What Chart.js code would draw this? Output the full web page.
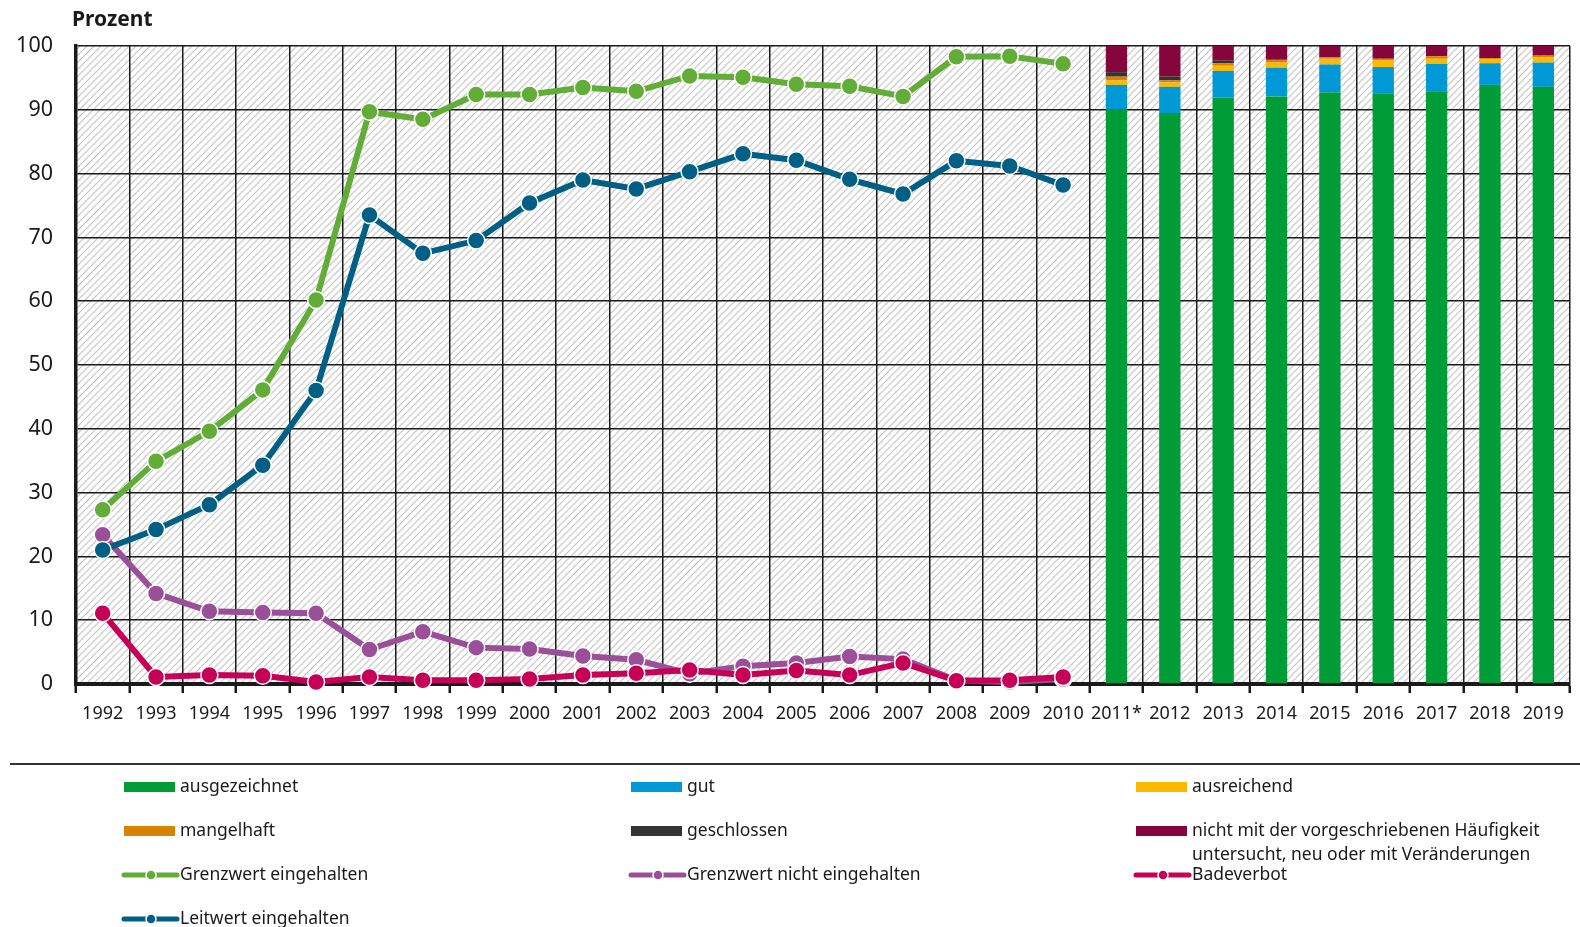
<!DOCTYPE html>
<html lang="de">
<head>
<meta charset="utf-8">
<title>Badegewässerqualität 1992-2019</title>
<script src="https://cdn.jsdelivr.net/npm/chart.js@4.4.1/dist/chart.umd.min.js"></script>
<style>
  html, body { margin: 0; padding: 0; background: #fff; }
  #wrap { width: 1580px; height: 927px; }
</style>
</head>
<body>
<div id="wrap"><canvas id="chart" width="1580" height="927"></canvas></div>
<script>
// Categories (x axis)
const years = ['1992', '1993', '1994', '1995', '1996', '1997', '1998', '1999', '2000', '2001',
    '2002', '2003', '2004', '2005', '2006', '2007', '2008', '2009', '2010',
    '2011*', '2012', '2013', '2014', '2015', '2016', '2017', '2018', '2019'];
const yTicks = [0, 10, 20, 30, 40, 50, 60, 70, 80, 90, 100];

// Line series 1992-2010 (Prozent)
const grenzwertEingehalten = [27.3, 34.9, 39.6, 46.1, 60.2, 89.7, 88.5, 92.4, 92.4, 93.5,
    92.9, 95.3, 95.1, 94.0, 93.7, 92.1, 98.3, 98.4, 97.2];
const leitwertEingehalten = [21.0, 24.2, 28.1, 34.3, 46.0, 73.5, 67.5, 69.5, 75.4, 79.0,
    77.6, 80.3, 83.1, 82.1, 79.1, 76.8, 82.0, 81.2, 78.2];
const grenzwertNichtEingehalten = [23.4, 14.2, 11.4, 11.2, 11.1, 5.4, 8.2, 5.7, 5.5, 4.4,
    3.8, 1.6, 2.8, 3.3, 4.3, 3.9, 0.6, 0.3, 0.8];
const badeverbot = [11.1, 1.1, 1.4, 1.3, 0.3, 1.1, 0.6, 0.6, 0.8, 1.4,
    1.7, 2.2, 1.4, 2.1, 1.4, 3.3, 0.5, 0.6, 1.1];

// Bar series 2011-2019 (Prozent)
const ausgezeichnet = [90.0, 89.5, 91.9, 92.1, 92.7, 92.5, 92.9, 93.9, 93.6];
const gut = [3.9, 4.1, 4.2, 4.5, 4.4, 4.2, 4.3, 3.4, 3.8];
const ausreichend = [0.7, 0.7, 0.8, 0.8, 0.9, 1.1, 0.8, 0.6, 0.8];
const mangelhaft = [0.6, 0.3, 0.4, 0.4, 0.2, 0.2, 0.4, 0.2, 0.3];
const geschlossen = [0.7, 0.6, 0.4, 0.1, 0.0, 0.0, 0.0, 0.0, 0.0];
const nichtUntersucht = [4.1, 4.8, 2.3, 2.1, 1.8, 2.0, 1.6, 1.9, 1.5];

const FONT = '"Noto Sans", "Open Sans", sans-serif';
const TEXT = '#1a1a1a';

// lines fill the first years, bars the last ones
const nLine = grenzwertEingehalten.length;
const nBar = ausgezeichnet.length;
const lineData = arr => arr.concat(new Array(nBar).fill(null));
const barData = arr => new Array(nLine).fill(null).concat(arr);

function lineSet(label, data, color, order) {
    return {
        type: 'line',
        label: label,
        data: lineData(data),
        borderColor: color,
        backgroundColor: color,
        borderWidth: 6,
        pointRadius: 8.5,
        pointBackgroundColor: color,
        pointBorderColor: '#fff',
        pointBorderWidth: 1.5,
        tension: 0,
        stack: 'line' + order,
        order: order,
        clip: false
    };
}

function barSet(label, data, color, order) {
    return {
        type: 'bar',
        label: label,
        data: barData(data),
        backgroundColor: color,
        borderWidth: 0,
        barPercentage: 1,
        categoryPercentage: 0.4,
        stack: 'bars',
        order: order
    };
}

const NICHT_LABEL = 'nicht mit der vorgeschriebenen Häufigkeit untersucht, neu oder mit Veränderungen';

const datasets = [
    lineSet('Grenzwert eingehalten', grenzwertEingehalten, '#61ad37', 1),
    lineSet('Leitwert eingehalten', leitwertEingehalten, '#005f85', 2),
    lineSet('Badeverbot', badeverbot, '#c60056', 3),
    lineSet('Grenzwert nicht eingehalten', grenzwertNichtEingehalten, '#9a4f98', 4),
    barSet('ausgezeichnet', ausgezeichnet, '#009c38', 10),
    barSet('gut', gut, '#0099d5', 11),
    barSet('ausreichend', ausreichend, '#fbb900', 12),
    barSet('mangelhaft', mangelhaft, '#d78200', 13),
    barSet('geschlossen', geschlossen, '#333333', 14),
    barSet(NICHT_LABEL, nichtUntersucht, '#84063c', 15)
];

const legendOrder = ['ausgezeichnet', 'gut', 'ausreichend', 'mangelhaft', 'geschlossen', NICHT_LABEL,
    'Grenzwert eingehalten', 'Grenzwert nicht eingehalten', 'Badeverbot', 'Leitwert eingehalten'];

// Hatched plot background
function makeHatch(ctx) {
    const s = 7;
    const c = document.createElement('canvas');
    c.width = s;
    c.height = s;
    const g = c.getContext('2d');
    g.strokeStyle = '#c6c6c6';
    g.lineWidth = 1.2;
    g.beginPath();
    g.moveTo(-1, s + 1); g.lineTo(s + 1, -1);
    g.moveTo(-1, 1); g.lineTo(1, -1);
    g.moveTo(s - 1, s + 1); g.lineTo(s + 1, s - 1);
    g.stroke();
    return ctx.createPattern(c, 'repeat');
}

const hatchPlugin = {
    id: 'hatch',
    beforeDraw(chart) {
        const { ctx, chartArea: a } = chart;
        ctx.save();
        ctx.fillStyle = '#fff';
        ctx.fillRect(0, 0, chart.width, chart.height);
        ctx.fillStyle = makeHatch(ctx);
        ctx.fillRect(a.left, a.top, a.right - a.left, a.bottom - a.top);
        ctx.restore();
    }
};

// Title and legend block below the chart
const legendPlugin = {
    id: 'legendBlock',
    afterDraw(chart) {
        const ctx = chart.ctx;
        ctx.save();

        ctx.fillStyle = TEXT;
        ctx.font = 'bold 21px ' + FONT;
        ctx.textAlign = 'left';
        ctx.textBaseline = 'alphabetic';
        ctx.fillText('Prozent', 72, 26);

        ctx.strokeStyle = '#333';
        ctx.lineWidth = 2;
        ctx.beginPath();
        ctx.moveTo(10, 764);
        ctx.lineTo(1580, 764);
        ctx.stroke();

        const cols = [124, 631, 1136];
        const rows = [787, 831, 875, 919];
        ctx.font = '17.5px ' + FONT;
        ctx.textBaseline = 'middle';

        legendOrder.forEach((label, i) => {
            const ds = chart.data.datasets.find(d => d.label === label);
            const x = cols[i % 3];
            const y = rows[Math.floor(i / 3)];
            if (ds.type === 'bar') {
                ctx.fillStyle = ds.backgroundColor;
                ctx.fillRect(x, y - 5, 51, 10);
            } else {
                ctx.strokeStyle = ds.borderColor;
                ctx.lineWidth = 5;
                ctx.lineCap = 'round';
                ctx.beginPath();
                ctx.moveTo(x, y);
                ctx.lineTo(x + 53, y);
                ctx.stroke();
                ctx.beginPath();
                ctx.arc(x + 27, y, 5, 0, Math.PI * 2);
                ctx.fillStyle = ds.borderColor;
                ctx.fill();
                ctx.strokeStyle = '#fff';
                ctx.lineWidth = 1.5;
                ctx.stroke();
            }
            // simple word wrap
            ctx.fillStyle = TEXT;
            const words = label.split(' ');
            let line = '';
            let ly = y;
            words.forEach(w => {
                const test = line ? line + ' ' + w : w;
                if (ctx.measureText(test).width > 350 && line) {
                    ctx.fillText(line, x + 56, ly);
                    line = w;
                    ly += 24;
                } else {
                    line = test;
                }
            });
            ctx.fillText(line, x + 56, ly);
        });
        ctx.restore();
    }
};

new Chart(document.getElementById('chart'), {
    data: {
        labels: years,
        datasets: datasets
    },
    options: {
        responsive: false,
        animation: false,
        events: [],
        layout: {
            padding: { top: 46, right: 4, bottom: 198, left: 0 }
        },
        plugins: {
            legend: { display: false },
            tooltip: { enabled: false }
        },
        scales: {
            x: {
                stacked: true,
                offset: true,
                afterFit: s => { s.height = 45; },
                grid: {
                    offset: true,
                    color: '#1a1a1a',
                    lineWidth: 1.5,
                    drawTicks: true,
                    tickLength: 9,
                    tickColor: '#1a1a1a',
                    tickWidth: 2.5
                },
                border: { display: true, color: '#1a1a1a', width: 4 },
                ticks: {
                    color: TEXT,
                    font: { family: FONT, size: 18 },
                    padding: 10,
                    maxRotation: 0,
                    autoSkip: false
                }
            },
            y: {
                stacked: true,
                min: 0,
                max: 100,
                afterFit: s => { s.width = 76; },
                afterBuildTicks: s => { s.ticks = yTicks.map(v => ({ value: v })); },
                grid: {
                    color: '#1a1a1a',
                    lineWidth: 1.5,
                    drawTicks: false
                },
                border: { display: true, color: '#1a1a1a', width: 3.5 },
                ticks: {
                    color: TEXT,
                    font: { family: FONT, size: 21.5 },
                    padding: 23
                }
            }
        }
    },
    plugins: [hatchPlugin, legendPlugin]
});
</script>
</body>
</html>
